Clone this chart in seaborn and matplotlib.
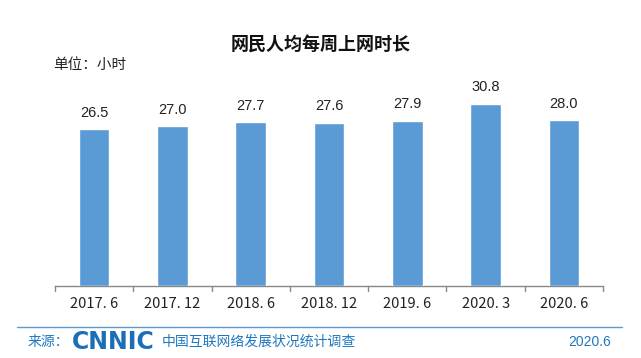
import matplotlib
matplotlib.use('Agg')
import matplotlib.pyplot as plt
import seaborn as sns
import pandas as pd

# Data
periods = ['2017.6', '2017.12', '2018.6', '2018.12', '2019.6', '2020.3', '2020.6']
tick_labels = ['2017. 6', '2017. 12', '2018. 6', '2018. 12', '2019. 6', '2020. 3', '2020. 6']
hours = [26.5, 27.0, 27.7, 27.6, 27.9, 30.8, 28.0]

sns.set_theme(style='white')
plt.rcParams['font.family'] = ['Noto Sans CJK SC', 'DejaVu Sans']

df = pd.DataFrame({'period': periods, 'hours': hours})

fig = plt.figure(figsize=(6.41, 3.58), dpi=100)
ax = fig.add_axes([55 / 641, 1 - 286 / 358, 548 / 641, 226 / 358])

sns.barplot(data=df, x='period', y='hours', color='#5b9bd5', saturation=1,
            width=0.39, ax=ax, zorder=3)
ax.set_ylim(0, 38.2)
ax.set_xlim(-0.5, len(periods) - 0.5)

for i, v in enumerate(hours):
    ax.text(i, v + 1.6, f'{v:.1f}', ha='center', va='bottom', fontsize=10.5,
            color='#222222', family='Liberation Sans')

ax.set_xlabel('')
ax.set_ylabel('')
ax.set_yticks([])
ax.set_xticks(range(len(periods)))
ax.set_xticklabels(tick_labels, fontsize=10.5, color='#222222')
ax.tick_params(axis='x', length=0, pad=8)
for s in ['top', 'right', 'left']:
    ax.spines[s].set_visible(False)
ax.spines['bottom'].set_color('#888888')
ax.spines['bottom'].set_linewidth(1.0)
# separator tick marks between categories
for b in [x - 0.5 for x in range(len(periods) + 1)]:
    ax.plot([b, b], [0, -0.9], color='#888888', lw=1.0, clip_on=False)

fig.text(0.5, 1 - 45 / 358, '网民人均每周上网时长', ha='center', va='center',
         fontsize=13, fontweight='bold', color='#111111')
fig.text(53 / 641, 1 - 65 / 358, '单位：小时', ha='left', va='center',
         fontsize=10.5, color='#222222')

# footer
fig.add_artist(plt.Line2D([17 / 641, 622 / 641], [1 - 327 / 358, 1 - 327 / 358],
                          color='#5b9bd5', lw=1.0))
blue = '#1f78c1'
fig.text(28 / 641, 1 - 342 / 358, '来源：', ha='left', va='center', fontsize=10, color=blue)
fig.text(72 / 641, 1 - 342 / 358, 'CNNIC', ha='left', va='center', fontsize=17,
         fontweight='bold', color='#1a6fb8', family='DejaVu Sans')
fig.text(162 / 641, 1 - 342 / 358, '中国互联网络发展状况统计调查', ha='left', va='center',
         fontsize=10, color=blue)
fig.text(611 / 641, 1 - 342 / 358, '2020.6', ha='right', va='center', fontsize=10,
         color=blue, family='Liberation Sans')

fig.savefig('out.png', dpi=100)
